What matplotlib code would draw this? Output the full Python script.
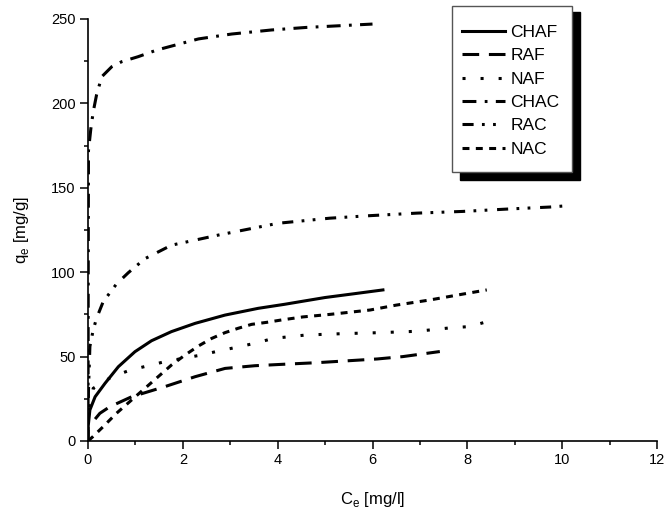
import matplotlib
matplotlib.use("Agg")
import matplotlib.pyplot as plt
from matplotlib.patches import Rectangle
from matplotlib.ticker import MultipleLocator

plt.rcParams['font.family'] = ['Liberation Sans', 'DejaVu Sans']
plt.rcParams['mathtext.fontset'] = 'custom'
plt.rcParams['mathtext.rm'] = 'Liberation Sans'
plt.rcParams['lines.scale_dashes'] = False

# Data
chaf_x = [0, 0.005, 0.04, 0.15, 0.36, 0.64, 0.99, 1.34, 1.76, 2.26, 2.89, 3.59, 4.15, 4.53, 5.0, 5.6, 6.22]
chaf_y = [0, 9, 18.4, 26.2, 34.2, 44, 52.9, 59.4, 64.8, 69.7, 74.6, 78.6, 81, 82.8, 85, 87.2, 89.5]

raf_x = [0.15, 0.25, 0.46, 0.92, 1.62, 2.26, 2.89, 3.52, 4.08, 4.83, 6.1, 6.64, 7.42]
raf_y = [13, 16.4, 20.3, 26.2, 32.2, 38.1, 43, 44.6, 45.4, 46.4, 48.6, 50, 53]

naf_x = [0.03, 0.11, 0.5, 0.89, 1.24, 1.62, 2.4, 2.75, 3.13, 3.52, 3.91, 4.6, 5.38, 6.16, 6.94, 7.63, 8.05, 8.45]
naf_y = [20, 31.2, 38, 42, 44.4, 47, 51, 53.3, 55.5, 57.9, 60.8, 62.8, 63.6, 64.2, 65, 67, 67.8, 71]

chac_x = [0, 0.005, 0.01, 0.06, 0.11, 0.18, 0.29, 0.5, 0.71, 1.06, 1.45, 1.9, 2.33, 3.03, 3.87, 4.6, 5.3, 6.0]
chac_y = [0, 100, 172, 185, 195, 205, 215.8, 221.7, 224.7, 227.7, 231.6, 235, 238.2, 241.1, 243.5, 245, 246, 247]

rac_x = [0, 0.01, 0.04, 0.11, 0.18, 0.32, 0.6, 0.85, 1.2, 1.76, 2.75, 4.01, 5.1, 5.95, 6.94, 7.9, 8.84, 9.74, 10.16]
rac_y = [0, 30, 56, 65.8, 72.7, 82.5, 93, 99.7, 108, 116, 122, 129, 132, 133.5, 135, 136, 137.4, 138.6, 139.5]

nac_x = [0, 0.1, 0.32, 0.6, 0.96, 1.2, 1.48, 1.76, 2.05, 2.33, 2.61, 2.89, 3.17, 3.45, 3.77, 4.08, 4.53, 5.1, 5.95, 6.5, 7.2, 7.9, 8.41]
nac_y = [0, 2.5, 8.5, 16.4, 25.3, 31.2, 38.1, 45, 51, 56.3, 60.8, 64.2, 66.8, 69.1, 70.3, 71.7, 73.5, 75, 77.6, 80.5, 83.5, 87, 89.5]

labels = ['CHAF', 'RAF', 'NAF', 'CHAC', 'RAC', 'NAC']

fig = plt.figure(figsize=(6.69, 5.17), dpi=100)
ax = fig.add_axes([88/669, 1-441/517, (657-88)/669, (441-19)/517])

lw = 2.2
ax.plot(chaf_x, chaf_y, color='black', lw=lw, ls='-', label=labels[0])
ax.plot(raf_x, raf_y, color='black', lw=lw, dashes=(12, 7), label=labels[1])
ax.plot(naf_x, naf_y, color='black', lw=lw, dashes=(2.2, 10.8), label=labels[2])
ax.plot(chac_x, chac_y, color='black', lw=lw, dashes=(10, 6, 2, 6), label=labels[3])
ax.plot(rac_x, rac_y, color='black', lw=lw, dashes=(8, 6, 2, 6, 2, 7), label=labels[4])
ax.plot(nac_x, nac_y, color='black', lw=lw, dashes=(5, 4.6), label=labels[5])

ax.set_xlim(0, 12)
ax.set_ylim(0, 250)
ax.xaxis.set_major_locator(MultipleLocator(2))
ax.xaxis.set_minor_locator(MultipleLocator(1))
ax.yaxis.set_major_locator(MultipleLocator(50))
ax.yaxis.set_minor_locator(MultipleLocator(25))
for s in ['top', 'right']:
    ax.spines[s].set_visible(False)
for s in ['left', 'bottom']:
    ax.spines[s].set_linewidth(1.2)
ax.tick_params(which='major', direction='out', length=6, width=1.1, labelsize=10.5, pad=3)
ax.tick_params(which='minor', direction='out', length=3, width=1.1)

ax.set_xlabel(r'C$_\mathregular{e}$ [mg/l]', fontsize=12, labelpad=16)
ax.set_ylabel(r'q$_\mathregular{e}$ [mg/g]', fontsize=12, labelpad=14)

# legend frame with solid black shadow
W, H = 669, 517
def fx(p):
    return p / W
def fy(p):
    return 1 - p / H
shadow = Rectangle((fx(460), fy(180)), fx(580) - fx(460), fy(12) - fy(180),
                   transform=fig.transFigure, facecolor='black', edgecolor='black', zorder=5)
box = Rectangle((fx(452), fy(172)), fx(572) - fx(452), fy(6) - fy(172),
                transform=fig.transFigure, facecolor='white', edgecolor='#555555', lw=1, zorder=6)
fig.patches.extend([shadow, box])

leg = fig.legend(loc='upper left', bbox_to_anchor=(fx(462), fy(25)),
                 frameon=False, fontsize=12.5, handlelength=2.5, handletextpad=0.3,
                 labelspacing=0.47, borderpad=0, borderaxespad=0)
leg.set_zorder(7)

fig.savefig('out.png', dpi=100)
